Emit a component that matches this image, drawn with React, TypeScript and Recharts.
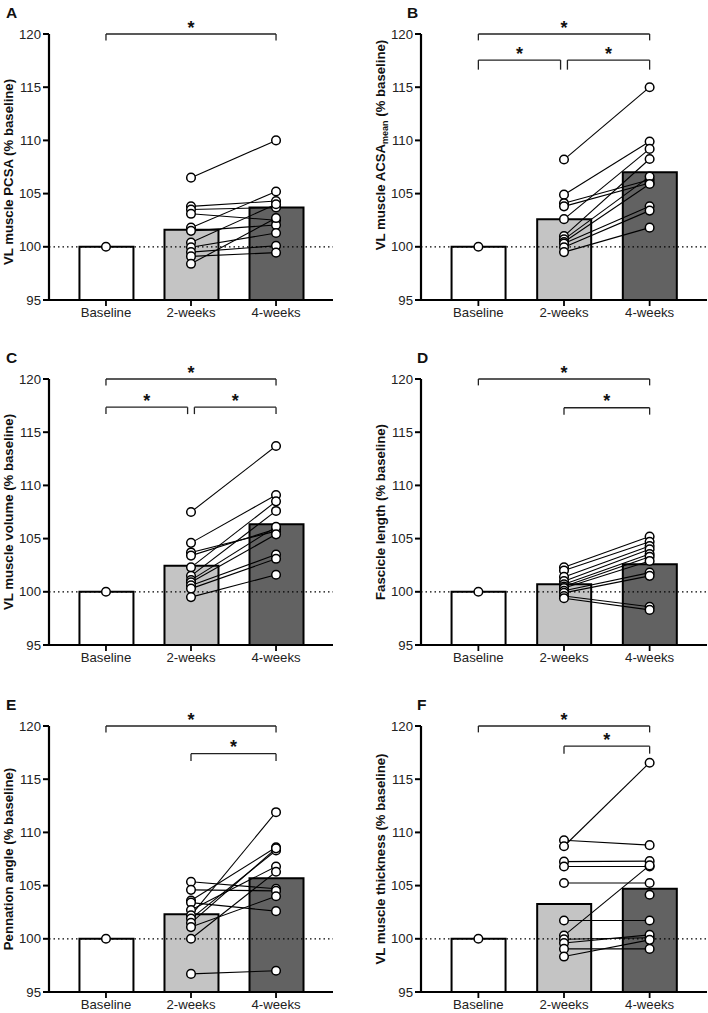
import React from 'react';
import {
  ComposedChart,
  Bar,
  Line,
  Cell,
  XAxis,
  YAxis,
  ReferenceLine,
} from 'recharts';

const FONT = '"Liberation Sans", Arial, Helvetica, sans-serif';

const CATEGORIES = ['Baseline', '2-weeks', '4-weeks'];
const Y_TICKS = [95, 100, 105, 110, 115, 120];
const BAR_FILLS = ['#ffffff', '#c4c4c4', '#626262'];

// A - PCSA
const pcsaMeans = [100, 101.6, 103.7];
const pcsaWeek2 = [106.5, 103.8, 103.5, 103.1, 101.8, 101.5, 100.4, 99.95, 99.5, 99.1, 98.4];
const pcsaWeek4 = [110.0, 104.3, 103.7, 102.5, 105.2, 102.05, 104.0, 101.3, 100.1, 99.45, 102.7];

// B - ACSA mean
const acsaMeans = [100, 102.6, 107.0];
const acsaWeek2 = [108.2, 104.9, 104.1, 103.8, 102.6, 101.0, 100.7, 100.45, 100.3, 99.95, 99.5];
const acsaWeek4 = [115.0, 109.9, 106.3, 106.0, 109.2, 108.25, 106.6, 105.9, 103.8, 103.4, 101.8];

// C - volume
const volumeMeans = [100, 102.45, 106.35];
const volumeWeek2 = [107.5, 104.6, 103.7, 103.4, 102.3, 101.5, 101.1, 100.9, 100.6, 100.3, 99.5];
const volumeWeek4 = [113.7, 109.1, 105.7, 105.9, 108.5, 107.6, 106.1, 105.4, 103.5, 103.1, 101.6];

// D - fascicle length
const fascicleMeans = [100, 100.72, 102.6];
const fascicleWeek2 = [102.3, 102.0, 101.4, 101.0, 100.7, 100.5, 100.35, 100.1, 99.9, 99.6, 99.4];
const fascicleWeek4 = [105.2, 104.7, 104.3, 104.0, 103.55, 103.3, 102.9, 101.8, 101.5, 98.6, 98.3];

// E - pennation angle
const pennationMeans = [100, 102.3, 105.7];
const pennationWeek2 = [105.36, 104.6, 103.6, 103.4, 102.7, 102.2, 101.9, 101.5, 101.1, 100.0, 96.7];
const pennationWeek4 = [104.7, 104.5, 108.6, 102.6, 106.8, 111.9, 108.3, 108.5, 104.0, 106.3, 97.0];

// F - thickness (last subject has no 2-week value)
const thicknessMeans = [100, 103.26, 104.7];
const thicknessWeek2 = [109.26, 108.7, 107.25, 106.8, 105.24, 101.72, 100.3, 99.96, 99.6, 99.05, 98.33, null];
const thicknessWeek4 = [108.8, 116.55, 107.3, 106.8, 105.24, 101.72, 106.9, 100.1, 100.37, 99.05, 99.9, 104.14];

type Bracket = { from: number; to: number; y: number; drop: number };

type Panel = {
  letter: string;
  label: React.ReactNode;
  labelShift: number;
  means: number[];
  week2: (number | null)[];
  week4: (number | null)[];
  brackets: Bracket[];
  col: number;
  row: number;
  letterX: number;
};

const panels: Panel[] = [
  {
    letter: 'A', label: 'VL muscle PCSA (% baseline)', labelShift: 5,
    means: pcsaMeans, week2: pcsaWeek2, week4: pcsaWeek4,
    brackets: [{ from: 0, to: 2, y: 120, drop: 0.6 }],
    col: 0, row: 0, letterX: 6,
  },
  {
    letter: 'B',
    label: (
      <>
        <tspan>VL muscle ACSA</tspan>
        <tspan fontSize={9} dy={3}>mean</tspan>
        <tspan dy={-3}> (% baseline)</tspan>
      </>
    ),
    labelShift: -22,
    means: acsaMeans, week2: acsaWeek2, week4: acsaWeek4,
    brackets: [
      { from: 0, to: 2, y: 120, drop: 0.6 },
      { from: 0, to: 0.96, y: 117.55, drop: 0.9 },
      { from: 1.04, to: 2, y: 117.55, drop: 0.9 },
    ],
    col: 1, row: 0, letterX: 407,
  },
  {
    letter: 'C', label: 'VL muscle volume (% baseline)', labelShift: 0,
    means: volumeMeans, week2: volumeWeek2, week4: volumeWeek4,
    brackets: [
      { from: 0, to: 2, y: 120, drop: 0.6 },
      { from: 0, to: 0.96, y: 117.35, drop: 0.65 },
      { from: 1.04, to: 2, y: 117.35, drop: 0.65 },
    ],
    col: 0, row: 1, letterX: 6,
  },
  {
    letter: 'D', label: 'Fascicle length (% baseline)', labelShift: 0,
    means: fascicleMeans, week2: fascicleWeek2, week4: fascicleWeek4,
    brackets: [
      { from: 0, to: 2, y: 120, drop: 0.6 },
      { from: 1, to: 2, y: 117.3, drop: 0.65 },
    ],
    col: 1, row: 1, letterX: 417,
  },
  {
    letter: 'E', label: 'Pennation angle (% baseline)', labelShift: 0,
    means: pennationMeans, week2: pennationWeek2, week4: pennationWeek4,
    brackets: [
      { from: 0, to: 2, y: 120, drop: 0.6 },
      { from: 1, to: 2, y: 117.4, drop: 0.7 },
    ],
    col: 0, row: 2, letterX: 6,
  },
  {
    letter: 'F', label: 'VL muscle thickness (% baseline)', labelShift: 0,
    means: thicknessMeans, week2: thicknessWeek2, week4: thicknessWeek4,
    brackets: [
      { from: 0, to: 2, y: 120, drop: 0.6 },
      { from: 1, to: 2, y: 118.1, drop: 0.7 },
    ],
    col: 1, row: 2, letterX: 417,
  },
];

const ROW_TOPS = [0, 345, 692];
const CHART_W = 354;
const CHART_H = 320;

const dotStyle = { r: 4.3, fill: '#ffffff', stroke: '#000000', strokeWidth: 1.5 };

function buildRows(p: Panel) {
  const rows: Record<string, number | null>[] = [0, 1, 2].map((x) => ({ x, mean: p.means[x] }));
  rows[0].base = 100;
  p.week2.forEach((v, i) => {
    rows[0][`s${i}`] = null;
    rows[1][`s${i}`] = v;
    rows[2][`s${i}`] = p.week4[i];
  });
  return rows;
}

const starLabel = (props: any) => {
  const vb = props.viewBox || {};
  const cx = (vb.x || 0) + (vb.width || 0) / 2;
  return (
    <text x={cx} y={(vb.y || 0) - 0.5} textAnchor="middle" fontSize={18} fontWeight={700} fill="#111" fontFamily={FONT}>
      *
    </text>
  );
};

function makeAxisLabel(text: React.ReactNode, dx: number, shift: number) {
  return (props: any) => {
    const vb = props.viewBox || {};
    const x = (vb.x || 0) + dx;
    const y = (vb.y || 0) + (vb.height || 0) / 2 + shift;
    return (
      <text
        x={x}
        y={y}
        transform={`rotate(-90 ${x} ${y})`}
        textAnchor="middle"
        fontSize={13.2}
        fontWeight={700}
        fill="#111"
        fontFamily={FONT}
      >
        {text}
      </text>
    );
  };
}

function PanelChart({ p }: { p: Panel }) {
  const rows = buildRows(p);
  const yAxisWidth = p.col === 0 ? 49 : 67;
  const rightMargin = p.col === 0 ? 21 : 1;
  const labelX = p.col === 0 ? 13 : 31;
  const subjects = p.week2.map((_, i) => `s${i}`);

  return (
    <ComposedChart
      width={CHART_W}
      height={CHART_H}
      data={rows}
      margin={{ top: 34, right: rightMargin, bottom: 0, left: 0 }}
    >
      <XAxis
        type="number"
        dataKey="x"
        domain={[-0.67, 2.67]}
        ticks={[0, 1, 2]}
        allowDataOverflow
        interval={0}
        height={20}
        tickFormatter={(v: number) => CATEGORIES[v] ?? ''}
        tick={{ fontSize: 13.2, fill: '#222', fontFamily: FONT }}
        axisLine={{ stroke: '#000', strokeWidth: 2.2 }}
        tickLine={{ stroke: '#000', strokeWidth: 1.8 }}
        tickSize={6}
      />
      <YAxis
        type="number"
        domain={[95, 120]}
        ticks={Y_TICKS}
        allowDataOverflow
        width={yAxisWidth}
        interval={0}
        tick={{ fontSize: 13.2, fill: '#222', fontFamily: FONT }}
        axisLine={{ stroke: '#000', strokeWidth: 2.2 }}
        tickLine={{ stroke: '#000', strokeWidth: 2 }}
        tickSize={6}
        label={{ content: makeAxisLabel(p.label, labelX, p.labelShift) }}
      />
      <ReferenceLine y={100} stroke="#000" strokeWidth={1.2} strokeDasharray="1.5 3" ifOverflow="visible" />
      <Bar dataKey="mean" barSize={54} stroke="#000" strokeWidth={2} isAnimationActive={false}>
        {rows.map((_, i) => (
          <Cell key={`cell-${i}`} fill={BAR_FILLS[i]} />
        ))}
      </Bar>
      {subjects.map((k) => (
        <Line
          key={`line-${k}`}
          type="linear"
          dataKey={k}
          stroke="#000"
          strokeWidth={1.1}
          dot={false}
          activeDot={false}
          connectNulls={false}
          isAnimationActive={false}
        />
      ))}
      <Line dataKey="base" stroke="none" dot={dotStyle} activeDot={false} isAnimationActive={false} />
      {subjects.map((k) => (
        <Line
          key={`dots-${k}`}
          dataKey={k}
          stroke="none"
          dot={dotStyle}
          activeDot={false}
          isAnimationActive={false}
        />
      ))}
      {p.brackets.map((b, i) => [
        <ReferenceLine
          key={`bh-${i}`}
          segment={[{ x: b.from, y: b.y }, { x: b.to, y: b.y }]}
          stroke="#222"
          strokeWidth={1.3}
          ifOverflow="visible"
          label={starLabel}
        />,
        <ReferenceLine
          key={`bl-${i}`}
          segment={[{ x: b.from, y: b.y }, { x: b.from, y: b.y - b.drop }]}
          stroke="#222"
          strokeWidth={1.3}
          ifOverflow="visible"
        />,
        <ReferenceLine
          key={`br-${i}`}
          segment={[{ x: b.to, y: b.y }, { x: b.to, y: b.y - b.drop }]}
          stroke="#222"
          strokeWidth={1.3}
          ifOverflow="visible"
        />,
      ])}
    </ComposedChart>
  );
}

export default function App() {
  return (
    <div style={{ position: 'absolute', left: 0, top: 0, width: 708, height: 1013, background: '#fff', fontFamily: FONT }}>
      {panels.map((p) => (
        <div
          key={p.letter}
          style={{ position: 'absolute', left: p.col * CHART_W, top: ROW_TOPS[p.row], width: CHART_W, height: CHART_H }}
        >
          <PanelChart p={p} />
          <div
            style={{
              position: 'absolute',
              left: p.letterX - p.col * CHART_W,
              top: 5,
              fontSize: 15.5,
              lineHeight: '15px',
              fontWeight: 700,
              color: '#111',
            }}
          >
            {p.letter}
          </div>
        </div>
      ))}
    </div>
  );
}
